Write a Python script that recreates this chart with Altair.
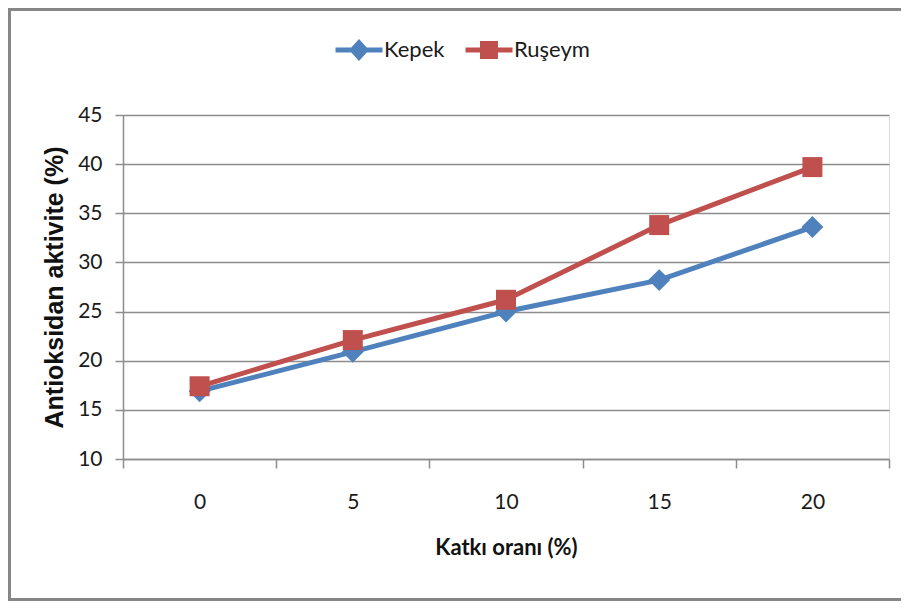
import altair as alt
import pandas as pd

categories = ["0", "5", "10", "15", "20"]
series_names = ["Kepek", "Ruşeym"]
kepek = [16.9, 20.9, 25.0, 28.2, 33.6]
ruseym = [17.4, 22.1, 26.2, 33.8, 39.7]
y_ticks = [10, 15, 20, 25, 30, 35, 40, 45]

colors = ["#4F81BD", "#C0504D"]
FONT = "Lato, Open Sans, sans-serif"
TITLE_Y_FONT = "Liberation Sans, Arial, sans-serif"

rows = []
for i, (c, k, r) in enumerate(zip(categories, kepek, ruseym)):
    rows.append({"oran": c, "sira": i, "seri": series_names[0], "deger": k})
    rows.append({"oran": c, "sira": i, "seri": series_names[1], "deger": r})
df = pd.DataFrame(rows)

def cscale():
    return alt.Scale(domain=series_names, range=colors)

x_enc = alt.X("oran:O", sort=categories,
              scale=alt.Scale(paddingInner=0, paddingOuter=0),
              axis=alt.Axis(title="Katkı oranı (%)", labelAngle=0, tickBand="extent",
                            labelFont=FONT, labelFontSize=21, labelColor="#1a1a1a",
                            labelPadding=23, tickSize=9, tickColor="#8c8c8c",
                            domainColor="#8c8c8c", domainWidth=1.5, tickWidth=1.5,
                            titleFont=FONT, titleFontSize=22, titleFontWeight="bold",
                            titleColor="#111111", titlePadding=25))
y_enc = alt.Y("deger:Q",
              scale=alt.Scale(domain=[10, 45], nice=False, zero=False),
              axis=alt.Axis(title="Antioksidan aktivite (%)", values=y_ticks,
                            grid=True, gridColor="#8c8c8c", gridWidth=1.5,
                            tickSize=8, tickColor="#8c8c8c", tickWidth=1.5,
                            domainColor="#8c8c8c", domainWidth=1.5,
                            labelFont=FONT, labelFontSize=21, labelColor="#1a1a1a",
                            labelPadding=13,
                            titleFont=TITLE_Y_FONT, titleFontSize=25,
                            titleFontWeight="bold", titleColor="#111111", titlePadding=10))

base = alt.Chart(df)

lines = base.mark_line(strokeWidth=5).encode(
    x=x_enc, y=y_enc,
    color=alt.Color("seri:N", scale=cscale(), legend=None),
    order=alt.Order("sira:Q"),
)

diamonds = base.transform_filter(alt.datum.seri == series_names[0]).mark_point(
    shape="diamond", filled=True, size=480, opacity=1).encode(
    x=x_enc, y=y_enc, color=alt.Color("seri:N", scale=cscale(), legend=None))

squares = base.transform_filter(alt.datum.seri == series_names[1]).mark_point(
    shape="square", filled=True, size=400, opacity=1).encode(
    x=x_enc, y=y_enc, color=alt.Color("seri:N", scale=cscale(), legend=None))

# unit box -1..1 is scaled by sqrt(size)/2 ; line stub + marker for the legend
legend_paths = [
    "M-2.35,-0.26H2.35V0.26H-2.35Z M0,-1.1L1.0,0L0,1.1L-1.0,0Z",
    "M-2.35,-0.26H2.35V0.26H-2.35Z M-0.9,-0.9H0.9V0.9H-0.9Z",
]

def make_legend():
    return alt.Legend(title=None, orient="none", legendX=225, legendY=-76,
                      direction="horizontal", symbolOpacity=1,
                      symbolSize=400, labelFont=FONT, labelFontSize=22,
                      labelColor="#1a1a1a", labelOffset=14,
                      columnPadding=20, symbolStrokeWidth=0)

# legend-only layer: no rows drawn, the legend comes from the explicit domains
legend_layer = base.transform_filter("false").mark_point(filled=True, size=400, opacity=1).encode(
    x=x_enc, y=y_enc,
    color=alt.Color("seri:N", scale=cscale(), legend=make_legend()),
    shape=alt.Shape("seri:N", scale=alt.Scale(domain=series_names, range=legend_paths),
                    legend=make_legend()),
)

border_df = pd.DataFrame({"k": [0]})
border = alt.Chart(border_df).mark_rect(fill="transparent", stroke="#868686", strokeWidth=3).encode(
    x=alt.value(-113.5), x2=alt.value(800), y=alt.value(-105.5), y2=alt.value(484.5))

chart = alt.layer(border, legend_layer, lines, diamonds, squares).resolve_scale(
    color="independent", shape="independent"
).resolve_legend(color="independent", shape="independent").properties(
    width=766, height=344,
    autosize=alt.AutoSizeParams(type="none"),
    padding={"left": 115, "top": 107, "right": 12, "bottom": 142},
).configure_view(stroke=None).configure(background="white")

chart.save("out.html", embed_options={"renderer": "svg", "actions": False})
